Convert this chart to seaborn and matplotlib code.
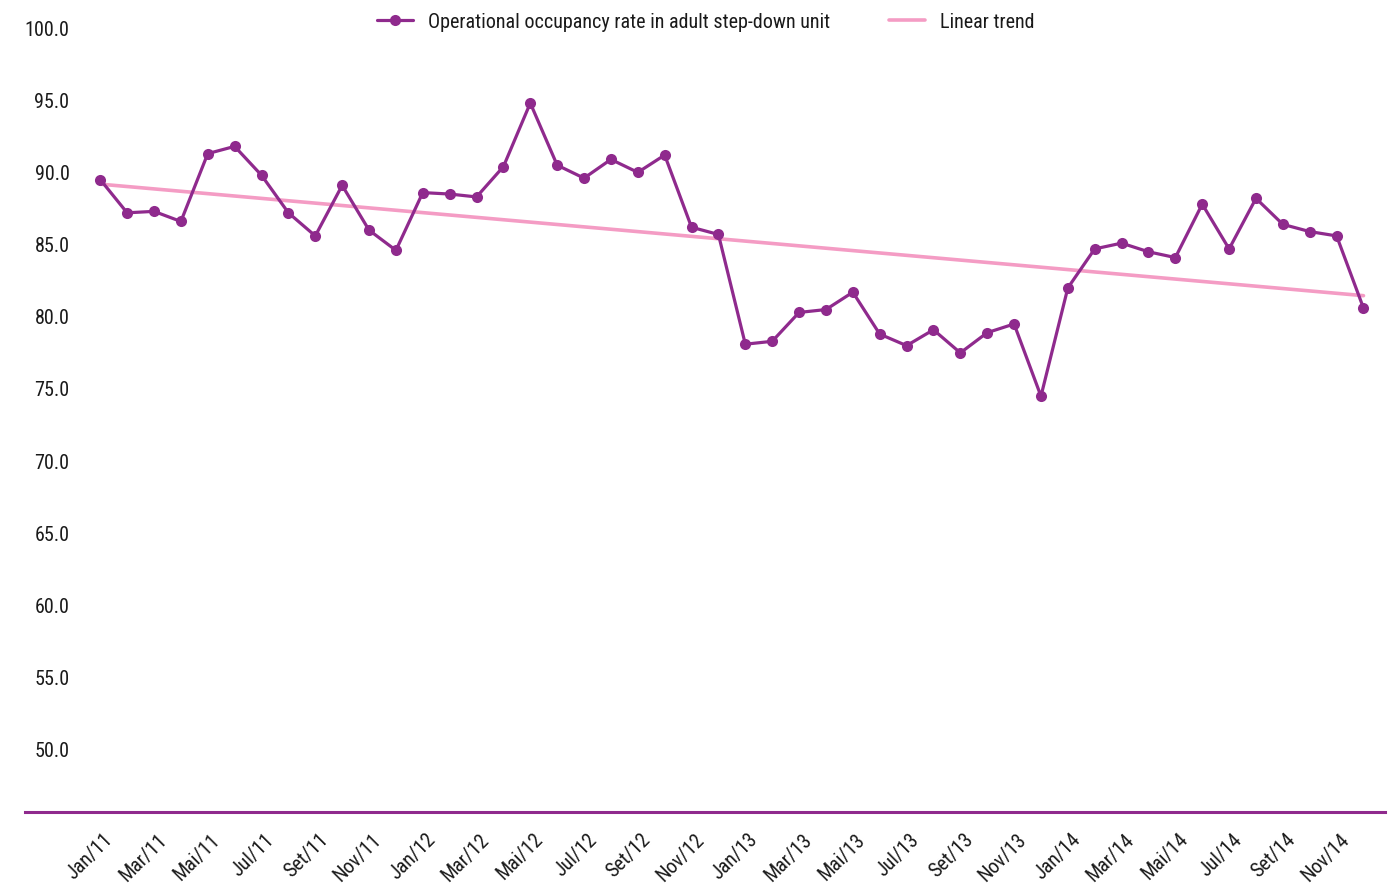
import numpy as np
import pandas as pd
import matplotlib
matplotlib.use("Agg")
import matplotlib.pyplot as plt
import matplotlib.transforms as mtransforms
from matplotlib import font_manager
import seaborn as sns

# Monthly series, Jan/2011 .. Dec/2014
months_pt = ["Jan", "Fev", "Mar", "Abr", "Mai", "Jun", "Jul", "Ago", "Set", "Out", "Nov", "Dez"]
years = ["11", "12", "13", "14"]
month_labels = [f"{m}/{y}" for y in years for m in months_pt]

occupancy = [
    89.5, 87.2, 87.3, 86.6, 91.3, 91.8, 89.8, 87.2, 85.6, 89.1, 86.0, 84.6,
    88.6, 88.5, 88.3, 90.4, 94.8, 90.5, 89.6, 90.9, 90.0, 91.2, 86.2, 85.7,
    78.1, 78.3, 80.3, 80.5, 81.7, 78.8, 78.0, 79.1, 77.5, 78.9, 79.5, 74.5,
    82.0, 84.7, 85.1, 84.5, 84.1, 87.8, 84.7, 88.2, 86.4, 85.9, 85.6, 80.6,
]

y_ticks = [50.0, 55.0, 60.0, 65.0, 70.0, 75.0, 80.0, 85.0, 90.0, 95.0, 100.0]

series_label = "Operational occupancy rate in adult step-down unit"
trend_label = "Linear trend"

PURPLE = "#8F2A8D"
PINK = "#F49CC4"

sns.set_theme(style="white")

# pick the narrowest sans family that is available
installed = {f.name for f in font_manager.fontManager.ttflist}
preferred = ["Roboto Condensed", "Liberation Sans Narrow", "Arial Narrow",
             "Open Sans Condensed", "Roboto", "Liberation Sans"]
family = [f for f in preferred if f in installed] or ["DejaVu Sans"]
plt.rcParams["font.family"] = [family[0], "DejaVu Sans"]
condensed = family[0] in ("Roboto Condensed", "Liberation Sans Narrow",
                          "Arial Narrow", "Open Sans Condensed")

df = pd.DataFrame({"t": np.arange(len(occupancy)), "rate": occupancy})
coef = np.polyfit(df["t"], df["rate"], 1)
df["trend"] = np.polyval(coef, df["t"])

fig = plt.figure(figsize=(13.96, 8.85), dpi=100)
ax = fig.add_axes([25 / 1396, 1 - 812 / 885, (1385 - 25) / 1396, (812 - 28) / 885])

sns.lineplot(data=df, x="t", y="trend", ax=ax, color=PINK, linewidth=2.6,
             label=trend_label, zorder=2)
sns.lineplot(data=df, x="t", y="rate", ax=ax, color=PURPLE, linewidth=2.3,
             marker="o", markersize=8, markeredgewidth=0, label=series_label,
             zorder=3)

ax.set_xlim(-2.8, 47.8)
ax.set_ylim(45.7, 100.0)
ax.set_xlabel("")
ax.set_ylabel("")

ysize = 14.5 if condensed else 12.5
xsize = 14.5 if condensed else 12
lsize = 14.5 if condensed else 13

ax.set_yticks(y_ticks)
ax.set_yticklabels([f"{v:.1f}" for v in y_ticks])
ax.tick_params(axis="y", length=0, pad=-32, labelsize=ysize, labelcolor="#1a1a1a")
for lbl in ax.get_yticklabels():
    lbl.set_horizontalalignment("right")

xt = list(range(0, len(month_labels), 2))
ax.set_xticks(xt)
ax.set_xticklabels([month_labels[i] for i in xt], rotation=45,
                   ha="right", va="top", rotation_mode="anchor")
ax.tick_params(axis="x", length=0, pad=13, labelsize=xsize, labelcolor="#1a1a1a")
shift = mtransforms.ScaledTranslation(3 / 100, 0, fig.dpi_scale_trans)
for lbl in ax.get_xticklabels():
    lbl.set_transform(lbl.get_transform() + shift)

for side in ["left", "right", "top"]:
    ax.spines[side].set_visible(False)
ax.spines["bottom"].set_color(PURPLE)
ax.spines["bottom"].set_linewidth(2.2)
ax.grid(False)

handles, labels = ax.get_legend_handles_labels()
ax.get_legend().remove()
order = [labels.index(series_label), labels.index(trend_label)]
fig.legend([handles[i] for i in order], [labels[i] for i in order],
           loc="center", bbox_to_anchor=(706 / 1396, 1 - 22 / 885),
           ncol=2, frameon=False, fontsize=lsize, handlelength=1.8,
           handletextpad=0.75, columnspacing=2.9, labelcolor="#1a1a1a")

fig.savefig("out.png", dpi=100, facecolor="white")
